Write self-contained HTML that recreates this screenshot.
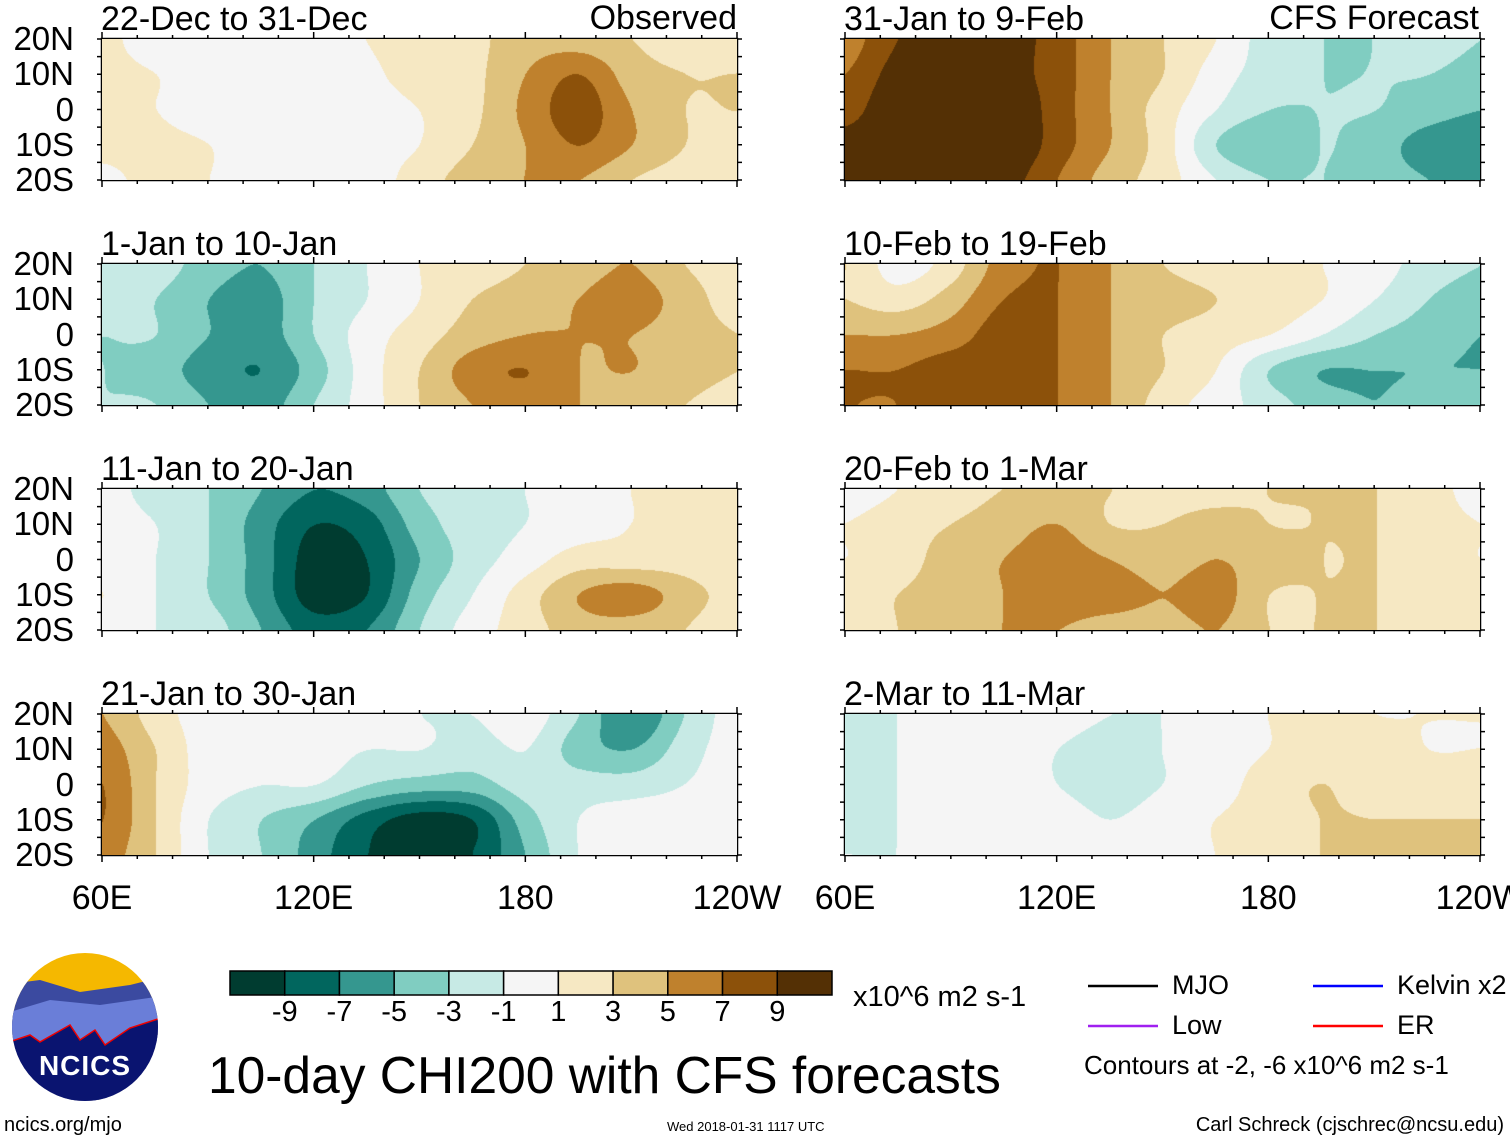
<!DOCTYPE html>
<html><head><meta charset="utf-8">
<style>
body{margin:0;background:#fff;width:1510px;height:1142px;overflow:hidden;position:relative;font-family:"Liberation Sans",sans-serif;}
.t{position:absolute;white-space:nowrap;color:#000;line-height:1;}
canvas{position:absolute;}
</style></head><body>
<div id="root"></div>
<svg id="ov" width="1510" height="1142" style="position:absolute;left:0;top:0"></svg>
<script>
const lons=[60,75,90,105,120,135,150,165,180,195,210,225,240];
const lats=[20,10,0,-10,-20];
const levels=[-9,-7,-5,-3,-1,1,3,5,7,9];
const colors=['#003c30','#01665e','#35978f','#80cdc1','#c7eae5','#f5f5f5','#f6e8c3','#dfc27d','#bf812d','#8c510a','#543005'];
const titles=['22-Dec to 31-Dec','1-Jan to 10-Jan','11-Jan to 20-Jan','21-Jan to 30-Jan','31-Jan to 9-Feb','10-Feb to 19-Feb','20-Feb to 1-Mar','2-Mar to 11-Mar'];
const p1=[[1.5,0,0,0,0,1,2,2.5,4,4,3,2,2],[1.5,1,0,0,0,0.5,2,2.5,5,7,4,3,3],[1.5,1,0,0,0,0,1,2.5,5.5,8,5,3,3],[1.5,1.5,1,0,-1,0,1,3,5,7,5,3,2],[0.5,1.5,1,0,0,0,2,4,5,5,3,2,1]];
const p2=[[-2,-2,-4,-5,-3,-1,1,2,3,4,5,3,2],[-2,-3,-5,-6,-3,-1,1,3,4,5,6,4,2],[-3,-3,-5,-6,-3,0,2,4,5,5,5,4,3],[-3,-4,-6,-7,-4,0,3,6,7,5,5,4,3],[-3,-3,-5,-6,-3,0,3,5,6,5,4,3,2]];
const p3=[[0,-2,-3,-5,-7,-6,-3,-2,-1,0,1,2,2],[0,-1,-3,-6,-9,-8,-4,-2,-1,0,1,2,2],[0,-1,-3,-6,-10,-9,-5,-2,0,2,2,2,1],[1,-1,-3,-6,-10,-9,-4,-1,2,5,6,4,2],[0,-1,-2,-5,-8,-7,-3,0,2,4,4,3,1]];
const p4=[[5,2,0,0,0,0,-1,-1,0,-3,-7,-3,0],[6,3,0,0,0,-1,-1,-2,-1,-4,-5,-2,0],[7,3,0,-1,-1,-3,-4,-4,-2,-2,-2,-1,0],[7,3,-1,-3,-5,-8,-10,-9,-4,-1,0,0,0],[6,3,-1,-3,-6,-9,-10,-9,-5,-1,0,0,0]];
const p5=[[6,9,10,10,8,5,3,1,-2,-3,-3,-2,-3],[7,10,11,10,8,5,3,0,-2,-3,-3,-3,-4],[8,11,11,11,8,5,2,-1,-3,-3,-3,-4,-5],[10,11,11,11,8,5,2,-3,-5,-3,-4,-6,-7],[10,11,11,10,7,4,2,-1,-3,-3,-4,-5,-6]];
const p6=[[3,0,2,6,7,5,3,2,2,1,0,-2,-3],[3,2,4,7,7,5,4,3,2,1,-1,-3,-4],[5,5,6,8,7,5,3,2,1,-1,-3,-4,-5],[7,7,8,8,7,5,3,1,-3,-5,-5,-5,-5],[7,7,8,8,7,5,2,0,-2,-4,-5,-4,-4]];
const p7=[[0,1,2,3,3,3,2,2,3,3,3,2,0],[1,2,3,4,5,3,3,4,3,3,3,2,1],[1,2,4,5,6,5,4,5,4,3,3,2,1],[2,3,4,5,6,6,5,6,3,3,3,2,2],[1,3,4,5,5,4,4,5,3,3,3,2,1]];
const p8=[[-2,-1,0,0,0,-1,-1,0,1,2,1,1,1],[-2,-1,0,0,-1,-2,-1,0,1,2,2,1,1],[-2,-1,0,0,-1,-2,-1,0,2,3,2,2,2],[-2,-1,0,0,0,-1,0,1,2,3,3,3,3],[-1,-1,0,0,0,0,0,1,2,3,3,3,3]];
const fields=[p1,p2,p3,p4,p5,p6,p7,p8];
const latTicks=['20N','10N','0','10S','20S'];
const lonTickLabels=['60E','120E','180','120W'];
const lonTickVals=[60,120,180,240];
const cbLabels=['-9','-7','-5','-3','-1','1','3','5','7','9'];

const PW=635,PH=141,colX=[102,845],rowY=[39,264,489,714];
const root=document.getElementById('root'),ov=document.getElementById('ov');
const NS='http://www.w3.org/2000/svg';
function xOf(lon,x0){return x0+(lon-60)/180*PW;}
function yOf(lat,y0){return y0+(20-lat)/40*PH;}
function cls(v){let i=0;while(i<levels.length&&v>=levels[i])i++;return colors[i];}
function hex(c){return [parseInt(c.substr(1,2),16),parseInt(c.substr(3,2),16),parseInt(c.substr(5,2),16)];}
function txt(s,x,y,size,name,anchor){const d=document.createElement('div');d.className='t';d.textContent=s;d.style.fontSize=size+'px';d.style.top=y+'px';
 if(anchor==='r'){d.style.right=(1510-x)+'px';}else if(anchor==='c'){d.style.left=x+'px';d.style.transform='translateX(-50%)';}else d.style.left=x+'px';
 document.body.appendChild(d);return d;}
function ln(x1,y1,x2,y2,st,w,dash){const l=document.createElementNS(NS,'line');l.setAttribute('x1',x1);l.setAttribute('y1',y1);l.setAttribute('x2',x2);l.setAttribute('y2',y2);l.setAttribute('stroke',st);l.setAttribute('stroke-width',w);if(dash)l.setAttribute('stroke-dasharray',dash);ov.appendChild(l);return l;}
function cr(p0,p1,p2,p3,t){return 0.5*((2*p1)+(-p0+p2)*t+(2*p0-5*p1+4*p2-p3)*t*t+(-p0+3*p1-3*p2+p3)*t*t*t);}
function g(f,j,i){j=Math.max(0,Math.min(4,j));i=Math.max(0,Math.min(12,i));return f[j][i];}
function val(f,lon,lat){
 let fi=(lon-60)/15, fj=(20-lat)/10;
 let i=Math.min(11,Math.floor(fi)),j=Math.min(3,Math.floor(fj));let a=fi-i,b=fj-j;
 const r=[];for(let jj=-1;jj<=2;jj++)r.push(cr(g(f,j+jj,i-1),g(f,j+jj,i),g(f,j+jj,i+1),g(f,j+jj,i+2),a));
 return cr(r[0],r[1],r[2],r[3],b);}
fields.forEach((f,k)=>{
 const col=k<4?0:1,row=k%4,x0=colX[col],y0=rowY[row];
 const c=document.createElement('canvas');c.width=PW;c.height=PH;c.style.left=x0+'px';c.style.top=y0+'px';
 
 
 document.body.appendChild(c);
 const ctx=c.getContext('2d'),img=ctx.createImageData(PW,PH);
 for(let y=0;y<PH;y++)for(let x=0;x<PW;x++){const v=val(f,60+x/PW*180,20-y/PH*40)+0.02;const rgb=hex(cls(v));const p=(y*PW+x)*4;img.data[p]=rgb[0];img.data[p+1]=rgb[1];img.data[p+2]=rgb[2];img.data[p+3]=255;}
 ctx.putImageData(img,0,0);
 ln(x0,yOf(0,y0),x0+PW,yOf(0,y0),'#555',1.2,'5,4');
 ln(xOf(180,x0),y0,xOf(180,x0),y0+PH,'#555',1.2,'5,4');
 const r=document.createElementNS(NS,'rect');r.setAttribute('x',x0);r.setAttribute('y',y0);r.setAttribute('width',PW);r.setAttribute('height',PH);r.setAttribute('fill','none');r.setAttribute('stroke','#000');r.setAttribute('stroke-width',2.5);
 
 
 ov.appendChild(r);
 for(let lon=60;lon<=240;lon+=10){const X=xOf(lon,x0);const L=(lon%60==0)?7:4;ln(X,y0-L,X,y0+L,'#000',1.5);ln(X,y0+PH-L,X,y0+PH+L,'#000',1.5);}
 for(let lat=-20;lat<=20;lat+=5){const Y=yOf(lat,y0);ln(x0-5,Y,x0+4,Y,'#000',1.5);ln(x0+PW-4,Y,x0+PW+5,Y,'#000',1.5);}
 txt(titles[k],x0-1,y0-37,34,'panel-title');
 if(col===0) latTicks.forEach((s,i)=>txt(s,74,yOf(lats[i],y0)-17,33,'lat-label','r'));
 if(row===3) lonTickLabels.forEach((s,i)=>txt(s,xOf(lonTickVals[i],x0),881,34,'lon-label','c'));
});
txt('Observed',737,1,34,'observed-label','r');
txt('CFS Forecast',1479,1,34,'forecast-label','r');
const cbx=230,cbw=602/11;
colors.forEach((c,i)=>{const r=document.createElementNS(NS,'rect');r.setAttribute('x',cbx+i*cbw);r.setAttribute('y',971);r.setAttribute('width',cbw);r.setAttribute('height',24);r.setAttribute('fill',c);r.setAttribute('stroke','#000');r.setAttribute('stroke-width',1.5);
 
 
 ov.appendChild(r);});
cbLabels.forEach((s,i)=>txt(s,cbx+(i+1)*cbw,998,29,'colorbar-label','c'));
txt('x10^6 m2 s-1',853,983,29,'units-label');
txt('10-day CHI200 with CFS forecasts',208,1050,51.5,'main-title');
[['MJO','#000',1088,986],['Low','#a020f0',1088,1026],['Kelvin x2','#0000ff',1313,986],['ER','#ff0000',1313,1026]].forEach(e=>{
 const l=ln(e[2],e[3],e[2]+70,e[3],e[1],2.5);
 
 
 txt(e[0],e[2]+84,e[3]-14,27,'legend-entry');});
txt('Contours at -2, -6 x10^6 m2 s-1',1084,1052,26,'contour-note');
txt('ncics.org/mjo',4,1115,20,'url-label');
txt('Wed 2018-01-31 1117 UTC',667,1120,13,'timestamp');
txt('Carl Schreck (cjschrec@ncsu.edu)',1504,1115,20,'author','r');
ov.insertAdjacentHTML('beforeend',`<g>
<clipPath id="lc"><ellipse cx="85" cy="1027" rx="73" ry="74"/></clipPath>
<g clip-path="url(#lc)"><rect x="0" y="950" width="170" height="160" fill="#f5b800"/>
<path d="M0 985 L40 980 L80 992 L130 985 L170 975 L170 1110 L0 1110Z" fill="#3b4aa0"/>
<path d="M0 1015 L50 1000 L100 1005 L170 995 L170 1110 L0 1110Z" fill="#6a7ed8"/>
<path d="M0 1045 L30 1035 L40 1042 L70 1025 L80 1040 L95 1030 L105 1045 L130 1028 L170 1015 L170 1110 L0 1110Z" fill="#0a1470" stroke="#e00" stroke-width="1.5"/></g>
</g>`);
txt('NCICS',85,1052,28,'logo-text','c').style.cssText+='color:#fff;font-weight:bold;letter-spacing:1px;';
</script>
</body></html>
